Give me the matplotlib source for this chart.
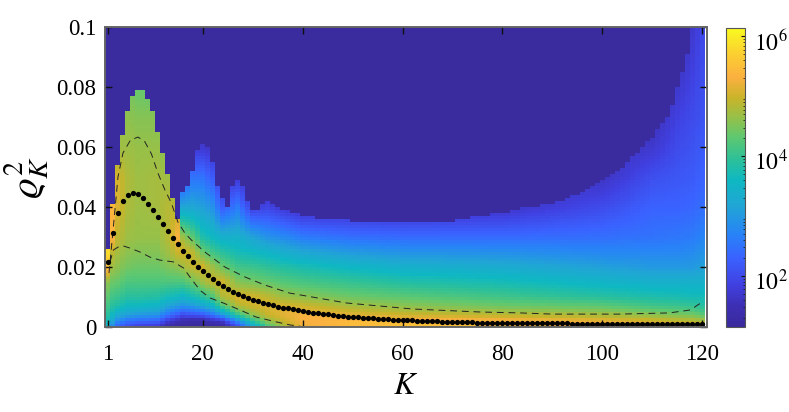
import numpy as np
import matplotlib
matplotlib.use("Agg")
import matplotlib.pyplot as plt
from matplotlib.colors import LinearSegmentedColormap, LogNorm
from matplotlib.transforms import ScaledTranslation

plt.rcParams['font.family'] = ['Liberation Serif', 'DejaVu Serif']
plt.rcParams['mathtext.fontset'] = 'stix'

# log10(count), one line per K in k_cols, one value per y in y_rows
y_rows = [0, .002, .004, .007, .01, .015, .02, .025, .03, .04, .05, .06, .07, .08, .09, .1]
k_cols = [1, 2, 3, 5, 7, 11, 13, 15, 16, 18, 20, 22, 24, 27, 30, 33, 36, 40, 50, 60, 80, 100, 110, 115, 118, 120]
log_counts = [
    [3.4, 3.7, 3.9, 4.1, 4.3, 4.6, 5.5, 5.85, 5.6, 5.6, 5.6, 5.6, 5.6, 5.6, 5.6, 5.6],
    [2.8, 3.2, 3.6, 3.9, 4.1, 4.4, 4.7, 4.9, 5.35, 5.4, 5.4, 5.4, 5.4, 5.4, 5.4, 5.4],
    [2.3, 2.8, 3.3, 3.8, 4.05, 4.35, 4.6, 4.75, 4.9, 5.1, 5.05, 4.7, 4.7, 4.7, 4.7, 4.7],
    [2.0, 2.5, 3.1, 3.6, 3.9, 4.2, 4.45, 4.6, 4.7, 4.8, 4.8, 4.7, 4.6, 4.5, 4.0, 4.0],
    [1.8, 2.4, 3.0, 3.6, 3.9, 4.2, 4.4, 4.55, 4.65, 4.7, 4.7, 4.65, 4.55, 4.35, 3.9, 3.9],
    [1.7, 2.3, 2.9, 3.5, 3.85, 4.2, 4.4, 4.55, 4.65, 4.75, 4.75, 4.65, 4.55, 4.3, 4.0, 4.0],
    [1.3, 1.8, 2.5, 3.2, 3.7, 4.2, 4.5, 4.7, 4.85, 4.85, 4.7, 4.5, 4.0, 4.0, 4.0, 4.0],
    [1.2, 1.5, 2.2, 3.0, 3.6, 4.2, 4.6, 5.0, 5.3, 4.9, 4.4, 4.0, 4.0, 4.0, 4.0, 4.0],
    [1.2, 1.4, 2.0, 2.9, 3.5, 4.2, 4.7, 5.05, 4.7, 3.2, 2.0, 1.7, 1.7, 1.7, 1.7, 1.7],
    [1.2, 1.3, 2.1, 3.0, 3.7, 4.4, 4.95, 4.9, 4.3, 3.2, 2.5, 1.7, 1.7, 1.7, 1.7, 1.7],
    [1.2, 1.3, 2.2, 3.2, 3.9, 4.7, 5.05, 4.4, 3.8, 3.1, 2.5, 1.7, 1.7, 1.7, 1.7, 1.7],
    [1.2, 1.5, 2.5, 3.5, 4.2, 4.95, 4.7, 4.1, 3.6, 2.9, 2.2, 1.6, 1.6, 1.6, 1.6, 1.6],
    [1.2, 1.7, 3.0, 4.2, 4.8, 5.05, 4.4, 3.9, 3.4, 2.2, 1.6, 1.6, 1.6, 1.6, 1.6, 1.6],
    [2.0, 2.8, 4.0, 4.8, 5.1, 4.55, 4.1, 3.7, 3.4, 2.6, 1.7, 1.5, 1.5, 1.5, 1.5, 1.5],
    [3.2, 3.9, 4.6, 5.0, 5.05, 4.45, 4.05, 3.6, 3.15, 1.8, 1.5, 1.5, 1.5, 1.5, 1.5, 1.5],
    [4.1, 4.6, 4.95, 5.1, 4.9, 4.35, 3.95, 3.5, 2.9, 1.9, 1.5, 1.5, 1.5, 1.5, 1.5, 1.5],
    [4.7, 4.95, 5.15, 5.1, 4.7, 4.25, 3.85, 3.35, 2.8, 1.7, 1.5, 1.5, 1.5, 1.5, 1.5, 1.5],
    [5.2, 5.3, 5.3, 5.0, 4.6, 4.15, 3.75, 3.2, 2.6, 1.5, 1.5, 1.5, 1.5, 1.5, 1.5, 1.5],
    [5.45, 5.45, 5.15, 4.75, 4.4, 4.0, 3.55, 3.0, 2.45, 1.5, 1.5, 1.5, 1.5, 1.5, 1.5, 1.5],
    [5.55, 5.45, 5.0, 4.6, 4.3, 3.85, 3.4, 2.9, 2.4, 1.5, 1.5, 1.5, 1.5, 1.5, 1.5, 1.5],
    [5.55, 5.35, 4.9, 4.4, 4.1, 3.7, 3.3, 2.85, 2.4, 1.6, 1.5, 1.5, 1.5, 1.5, 1.5, 1.5],
    [5.3, 5.2, 4.75, 4.3, 3.9, 3.5, 3.1, 2.75, 2.45, 2.0, 1.6, 1.5, 1.5, 1.5, 1.5, 1.5],
    [5.15, 5.05, 4.6, 4.1, 3.8, 3.4, 3.0, 2.75, 2.5, 2.3, 2.05, 1.7, 1.5, 1.5, 1.5, 1.5],
    [5.05, 4.95, 4.5, 4.05, 3.75, 3.4, 3.0, 2.75, 2.55, 2.3, 2.15, 2.0, 1.85, 1.7, 1.5, 1.5],
    [5.0, 4.9, 4.45, 4.0, 3.7, 3.4, 3.0, 2.8, 2.6, 2.35, 2.2, 2.1, 2.0, 1.9, 1.8, 1.7],
    [4.9, 4.8, 4.3, 3.9, 3.7, 3.4, 3.1, 2.9, 2.7, 2.45, 2.3, 2.2, 2.1, 2.05, 2.0, 1.95],
]

# sharp top of the first lobe, K = 1..15
top_edge = [.0257, .0407, .0537, .0637, .0717, .0767, .0787, .0787, .0757, .0717,
            .0647, .0577, .0507, .0427, .0357]

# where the dark background starts further along
edge_k = [16, 17, 18, 19, 20, 21, 22, 23, 24, 25, 26, 27, 28, 29, 30, 31, 33, 35, 37, 40, 45, 50, 60,
          70, 80, 84, 90, 97, 103.5, 110, 113.5, 117, 118, 120]
edge_rho = [.0447, .047, .052, .059, .0607, .06, .055, .047, .0425, .04, .047, .049, .047, .0415, .039,
            .039, .042, .04, .0385, .037, .036, .0355, .035, .0355, .038, .0397, .041, .0457, .0523,
            .0633, .0713, .091, .0995, .101]

# the black dots, K = 1..120
mean_rho = [
    .0217, .0313, .0380, .0420, .0440, .0447, .0443, .0430, .0410, .0390,
    .0367, .0343, .0320, .0297, .0277, .0253, .0237, .0217, .0200, .0187,
    .0173, .0160, .0147, .0137, .0127, .0118, .0110, .0103, .0097, .0091,
    .0086, .0081, .0076, .0072, .0068, .0065, .0062, .0059, .0056, .0052,
    .0050, .0048, .0046, .0044, .0042, .0040, .0038, .0037, .0035, .0034,
    .0033, .0031, .0030, .0029, .0028, .0027, .0026, .0025, .0024, .0023,
    .0022, .0022, .0021, .0020, .0020, .0019, .0019, .0018, .0018, .0017,
    .0017, .0016, .0016, .0016, .0015, .0015, .0015, .0014, .0014, .0014,
    .0014, .0013, .0013, .0013, .0013, .0013, .0012, .0012, .0012, .0012,
    .0012, .0012, .0012, .0011, .0011, .0011, .0011, .0011, .0011, .0011,
    .0011, .0011, .0011, .0011, .0011, .0011, .0011, .0011, .0011, .0011,
    .0011, .0011, .0011, .0011, .0011, .0011, .0011, .0011, .0011, .0011,
]

# dashed curves
upper_k = [1.2, 2, 3, 4, 5.5, 7, 8.3, 9.7, 11, 12.4, 13.7, 15, 16.4, 17.7, 20.4, 24.4, 28.4, 32.4, 37.4,
           48.8, 62, 75.5, 83.5, 90, 103.5, 113.5, 117.7, 120]
upper_rho = [.018, .032, .05, .058, .0623, .0633, .062, .0577, .0513, .0457, .0413, .035, .0313, .029, .025,
             .02, .0167, .014, .0113, .008, .006, .005, .0047, .0043, .0043, .0047, .0057, .0083]
lower_k = [1.4, 2.1, 3.1, 4.1, 5.4, 7.4, 9.4, 11.4, 14.1, 16.1, 17.4, 19.4, 21.4, 24.1, 27.4, 30.7, 34.7, 37.4, 40]
lower_rho = [.0217, .0257, .0267, .027, .0263, .025, .0233, .0223, .0217, .0197, .0167, .0123, .0097, .008,
             .0057, .0033, .0017, .0007, .0001]

x_ticks = [1, 20, 40, 60, 80, 100, 120]
y_ticks = [0, .02, .04, .06, .08, .1]
y_labels = ['0', '0.02', '0.04', '0.06', '0.08', '0.1']
cbar_ticks = [1e2, 1e4, 1e6]
cbar_labels = ['$10^2$', '$10^4$', '$10^6$']

# colours along the colorbar, (log10 position, colour)
vmin_log, vmax_log = 1.15, 6.14
stops = [(1.15, '#3a2a9c'), (1.5, '#3d2fb4'), (1.85, '#4040e0'), (2.3, '#3a62ff'), (2.68, '#2882f8'),
         (3.18, '#20a6d4'), (3.6, '#0eb8c2'), (3.94, '#2cc09a'), (4.32, '#5ec870'), (4.66, '#98c048'),
         (4.97, '#c8b42a'), (5.32, '#fbb040'), (5.72, '#fbd030'), (6.14, '#f8fa20')]
parula_ish = LinearSegmentedColormap.from_list(
    'rho', [((p - vmin_log) / (vmax_log - vmin_log), c) for p, c in stops], N=512)

# put the table on the 120 x 100 cell grid of the histogram
log_counts = np.array(log_counts)
K = np.arange(1, 121)
y_cells = (np.arange(100) + .5) * .001
by_y = np.array([np.interp(y_cells, y_rows, col) for col in log_counts])
field = np.array([np.interp(K, k_cols, by_y[:, i]) for i in range(100)])
dark_from = np.interp(K, edge_k, edge_rho)
dark_from[:len(top_edge)] = top_edge
field[y_cells[:, None] > dark_from] = 1.2

fig = plt.figure(figsize=(7.89, 4.12), dpi=100)
ax = fig.add_axes([104.5 / 789, 1 - 327 / 412, 602 / 789, 300 / 412])

mesh = ax.pcolormesh(np.arange(.5, 121), np.arange(101) * .001, 10 ** field,
                     cmap=parula_ish, norm=LogNorm(10 ** vmin_log, 10 ** vmax_log))
ax.plot(upper_k, upper_rho, color='#222222', lw=.7, ls=(0, (7, 5)))
ax.plot(lower_k, lower_rho, color='#222222', lw=.7, ls=(0, (7, 5)))
ax.plot(K, mean_rho, 'o', color='black', ms=3.8, mew=0)

ax.set_xlim(.3, 120.9)
ax.set_ylim(0, .1)
ax.set_xticks(x_ticks)
ax.set_yticks(y_ticks)
ax.set_yticklabels(y_labels)
ax.tick_params(direction='in', top=True, right=True, length=5, width=1, labelsize=16.5, color='#111111')
ax.tick_params(axis='x', pad=12)
ax.tick_params(axis='y', pad=6)
for s in ax.spines.values():
    s.set_color('#666666')
    s.set_linewidth(1.4)
ax.set_xlabel('$K$', fontsize=23, labelpad=5)
ax.set_ylabel(r'$\varrho_K^2$', fontsize=29, labelpad=4)

cax = fig.add_axes([725.5 / 789, 1 - 327 / 412, 19 / 789, 299 / 412])
cbar = fig.colorbar(mesh, cax=cax)
cbar.set_ticks(cbar_ticks, labels=cbar_labels)
cbar.ax.tick_params(which='both', direction='in', right=True, color='#111111', labelsize=17, pad=7)
cbar.ax.tick_params(which='major', length=3, width=.8)
cbar.ax.tick_params(which='minor', length=1.5, width=.5)
cbar.outline.set_edgecolor('#555555')
cbar.outline.set_linewidth(.8)
for lab in cbar.ax.get_yticklabels():
    lab.set_transform(lab.get_transform() + ScaledTranslation(0, -.04, fig.dpi_scale_trans))

fig.savefig('out.png', dpi=100)
